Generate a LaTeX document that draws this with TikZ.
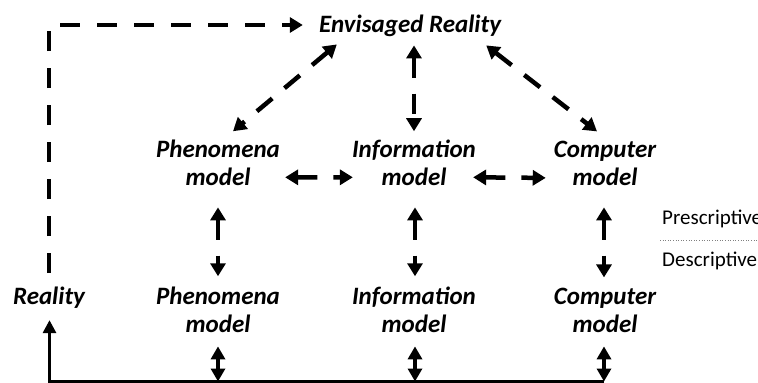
\documentclass[tikz,border=0pt]{standalone}
\usepackage{fontspec}
\setmainfont{Carlito}
\usetikzlibrary{arrows.meta,calc}

\tikzset{
  lbl/.style={font=\bfseries\itshape\fontsize{25}{28}\selectfont, align=center, inner sep=0pt, anchor=base},
  side/.style={font=\fontsize{21}{25}\selectfont, inner sep=0pt, anchor=base west},
  dbl/.style={line width=4.5pt, dash pattern=on 20pt off 16pt, {Triangle[length=13pt,width=15pt]}-{Triangle[length=13pt,width=15pt]}},
  trace/.style={line width=4.5pt, dash pattern=on 20pt off 17pt, -{Triangle[length=13pt,width=15pt]}},
  bottomline/.style={line width=3pt, -{Triangle[length=13pt,width=13pt]}},
  pair/.style={line width=4pt, {Triangle[length=13pt,width=14pt]}-{Triangle[length=13pt,width=14pt]}},
}

\begin{document}
\begin{tikzpicture}[x=1pt,y=-1pt]
  \useasboundingbox (0,0) rectangle (758,383);

  % labels (two-line labels sit on the baseline of their last line)
  \node[lbl] (env) at (410,32) {Envisaged Reality};
  \node[lbl] (phU) at (218,185) {Phenomena\\model};
  \node[lbl] (infU) at (414,185) {Information\\model};
  \node[lbl] (cmpU) at (605,185) {Computer\\model};
  \node[lbl] (real) at (49,304) {Reality};
  \node[lbl] (phL) at (218,332) {Phenomena\\model};
  \node[lbl] (infL) at (414,332) {Information\\model};
  \node[lbl] (cmpL) at (605,332) {Computer\\model};

  \node[side] (pre) at (662,224) {Prescriptive};
  \node[side] (des) at (662,266) {Descriptive};
  \coordinate (sepL) at (660,240);
  \coordinate (sepR) at (758,240);
  \draw[gray, line width=0.6pt, dotted] (sepL) -- (sepR);

  % dashed trace from reality to envisaged reality
  \coordinate (corner) at (49,25);
  \draw[trace] (real.north |- 0,273) -- (corner) -- ($(env.west |- corner)+(-16,0)$);

  % envisaged reality to the upper models
  \draw[dbl] ($(env.south west)+(18,8)$) -- ($(phU.north)+(15,-8)$);
  \draw[dbl] ($(env.south -| infU.north)+(0,9)$) -- ($(infU.north)+(0,-8)$);
  \draw[dbl] ($(env.south east)+(-15,9)$) -- ($(cmpU.north)+(-8,-9)$);

  % between the upper models
  \draw[dbl] ($(phU.east)+(5,15)$) -- ($(infU.west)+(1,15)$);
  \draw[dbl] ($(infU.east)+(-3,15)$) -- ($(cmpU.west)+(-8,15)$);

  % upper to lower models
  \draw[dbl] ($(phU.south)+(0,22)$) -- ($(phL.north)+(0,-10)$);
  \draw[dbl] ($(infU.south)+(1,22)$) -- ($(infL.north)+(1,-10)$);
  \draw[dbl] ($(cmpU.south)+(-1,22)$) -- ($(cmpL.north)+(-1,-10)$);

  % bottom line
  \coordinate (bl) at (49.5,381.5);
  \coordinate (br) at (604,381.5);
  \draw[bottomline] (br) -- (bl) -- ($(real.south)+(0.5,12)$);
  \draw[pair] ($(phL.south)+(0,14)$) -- (phL.south |- bl);
  \draw[pair] ($(infL.south)+(1,14)$) -- ($(infL.south |- bl)+(1,0)$);
  \draw[pair] ($(cmpL.south)+(-1,14)$) -- ($(cmpL.south |- bl)+(-1,0)$);
\end{tikzpicture}
\end{document}
